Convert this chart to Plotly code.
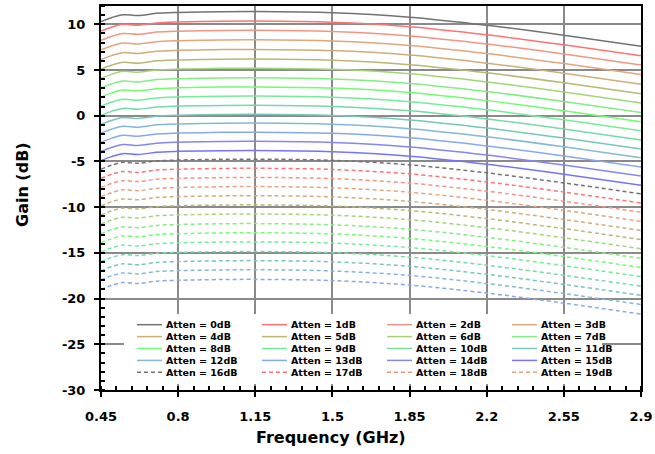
import plotly.graph_objects as go

# ---------------- data ----------------
freq = [0.45, 0.5, 0.55, 0.62, 0.7, 0.8, 1.0, 1.15, 1.5, 1.85, 2.2, 2.55, 2.9]

atten_0 = [10.30, 10.75, 11.05, 10.95, 11.20, 11.30, 11.38, 11.40, 11.27, 10.78, 9.90, 8.80, 7.60]
atten_1 = [9.25, 9.70, 10.00, 9.90, 10.15, 10.25, 10.33, 10.35, 10.22, 9.73, 8.85, 7.75, 6.55]
atten_2 = [8.25, 8.70, 9.00, 8.90, 9.15, 9.25, 9.33, 9.35, 9.22, 8.73, 7.85, 6.75, 5.55]
atten_3 = [7.20, 7.65, 7.95, 7.85, 8.10, 8.20, 8.28, 8.30, 8.17, 7.68, 6.80, 5.70, 4.50]
atten_4 = [6.15, 6.60, 6.90, 6.80, 7.05, 7.15, 7.23, 7.25, 7.12, 6.63, 5.75, 4.65, 3.45]
atten_5 = [5.10, 5.55, 5.85, 5.75, 6.00, 6.10, 6.18, 6.20, 6.07, 5.58, 4.70, 3.60, 2.40]
atten_6 = [4.10, 4.55, 4.85, 4.75, 5.00, 5.10, 5.18, 5.20, 5.07, 4.58, 3.70, 2.60, 1.40]
atten_7 = [3.05, 3.50, 3.80, 3.70, 3.95, 4.05, 4.13, 4.15, 4.02, 3.53, 2.65, 1.55, 0.35]
atten_8 = [2.05, 2.50, 2.80, 2.70, 2.95, 3.05, 3.13, 3.15, 3.02, 2.53, 1.65, 0.55, -0.65]
atten_9 = [1.05, 1.50, 1.80, 1.70, 1.95, 2.05, 2.13, 2.15, 2.02, 1.53, 0.65, -0.45, -1.65]
atten_10 = [0.05, 0.50, 0.80, 0.70, 0.95, 1.05, 1.13, 1.15, 1.02, 0.53, -0.35, -1.45, -2.65]
atten_11 = [-0.95, -0.50, -0.20, -0.30, -0.05, 0.05, 0.13, 0.15, 0.02, -0.47, -1.35, -2.45, -3.65]
atten_12 = [-1.90, -1.45, -1.15, -1.25, -1.00, -0.90, -0.82, -0.80, -0.93, -1.42, -2.30, -3.40, -4.60]
atten_13 = [-2.90, -2.45, -2.15, -2.25, -2.00, -1.90, -1.82, -1.80, -1.93, -2.42, -3.30, -4.40, -5.60]
atten_14 = [-3.90, -3.45, -3.15, -3.25, -3.00, -2.90, -2.82, -2.80, -2.93, -3.42, -4.30, -5.40, -6.60]
atten_15 = [-4.90, -4.45, -4.15, -4.25, -4.00, -3.90, -3.82, -3.80, -3.93, -4.42, -5.30, -6.40, -7.60]
atten_16 = [-5.85, -5.40, -5.10, -5.20, -4.95, -4.85, -4.77, -4.75, -4.88, -5.37, -6.25, -7.35, -8.55]
atten_17 = [-6.85, -6.40, -6.10, -6.20, -5.95, -5.85, -5.77, -5.75, -5.88, -6.37, -7.25, -8.35, -9.55]
atten_18 = [-7.85, -7.40, -7.10, -7.20, -6.95, -6.85, -6.77, -6.75, -6.88, -7.37, -8.25, -9.35, -10.55]
atten_19 = [-8.85, -8.40, -8.10, -8.20, -7.95, -7.85, -7.77, -7.75, -7.88, -8.37, -9.25, -10.35, -11.55]
atten_20 = [-9.85, -9.40, -9.10, -9.20, -8.95, -8.85, -8.77, -8.75, -8.88, -9.37, -10.25, -11.35, -12.55]
atten_21 = [-10.85, -10.40, -10.10, -10.20, -9.95, -9.85, -9.77, -9.75, -9.88, -10.37, -11.25, -12.35, -13.55]
atten_22 = [-11.85, -11.40, -11.10, -11.20, -10.95, -10.85, -10.77, -10.75, -10.88, -11.37, -12.25, -13.35, -14.55]
atten_23 = [-12.90, -12.45, -12.15, -12.25, -12.00, -11.90, -11.82, -11.80, -11.93, -12.42, -13.30, -14.40, -15.60]
atten_24 = [-13.90, -13.45, -13.15, -13.25, -13.00, -12.90, -12.82, -12.80, -12.93, -13.42, -14.30, -15.40, -16.60]
atten_25 = [-14.90, -14.45, -14.15, -14.25, -14.00, -13.90, -13.82, -13.80, -13.93, -14.42, -15.30, -16.40, -17.60]
atten_26 = [-15.95, -15.50, -15.20, -15.30, -15.05, -14.95, -14.87, -14.85, -14.98, -15.47, -16.35, -17.45, -18.65]
atten_27 = [-16.95, -16.50, -16.20, -16.30, -16.05, -15.95, -15.87, -15.85, -15.98, -16.47, -17.35, -18.45, -19.65]
atten_28 = [-17.95, -17.50, -17.20, -17.30, -17.05, -16.95, -16.87, -16.85, -16.98, -17.47, -18.35, -19.45, -20.65]
atten_29 = [-19.00, -18.55, -18.25, -18.35, -18.10, -18.00, -17.92, -17.90, -18.03, -18.52, -19.40, -20.50, -21.70]

gains = [atten_0, atten_1, atten_2, atten_3, atten_4, atten_5, atten_6, atten_7,
         atten_8, atten_9, atten_10, atten_11, atten_12, atten_13, atten_14, atten_15,
         atten_16, atten_17, atten_18, atten_19, atten_20, atten_21, atten_22, atten_23,
         atten_24, atten_25, atten_26, atten_27, atten_28, atten_29]

series_names = ["Atten = %ddB" % k for k in range(len(gains))]
legend_count = 20

x_tickvals = [0.45, 0.8, 1.15, 1.5, 1.85, 2.2, 2.55, 2.9]
x_ticktext = ["0.45", "0.8", "1.15", "1.5", "1.85", "2.2", "2.55", "2.9"]
y_tickvals = [-30, -25, -20, -15, -10, -5, 0, 5, 10]
y_ticktext = ["-30", "-25", "-20", "-15", "-10", "-5", "0", "5", "10"]
x_title = "Frequency (GHz)"
y_title = "Gain (dB)"

palette = ["#727272", "#ff7272", "#f49482", "#e4a47c", "#d0ac7a", "#b8b874",
           "#a0d678", "#84ec84", "#72fc72", "#74ec98", "#76daa8", "#78c6b8",
           "#84b8da", "#86a8ee", "#8686f2", "#7474ff"]

# ---------------- figure ----------------
fig = go.Figure()
for k, g in enumerate(gains):
    col = palette[k % len(palette)]
    dashed = k >= len(palette)
    fig.add_trace(go.Scatter(
        x=freq, y=g, mode="lines", name=series_names[k], showlegend=False,
        line=dict(color=col, width=1.5, shape="spline", smoothing=0.9,
                  dash="4px,3px" if dashed else "solid"),
    ))

FONT = "DejaVu Sans"
axis_common = dict(
    showline=True, linecolor="black", linewidth=2, mirror=True,
    showgrid=True, gridcolor="#8a8a8a", gridwidth=1.6,
    ticks="outside", ticklen=5, tickwidth=2, tickcolor="black",
    tickfont=dict(family=FONT, size=13, color="black", weight="bold"),
    zeroline=False, automargin=False,
)

fig.update_xaxes(
    **axis_common,
    range=[0.45, 2.9], tickmode="array", tickvals=x_tickvals, ticktext=x_ticktext,
    ticklabelstandoff=8,
    minor=dict(tick0=0.45, dtick=0.07, ticks="inside", ticklen=4, tickwidth=1.5,
               tickcolor="black", showgrid=False),
)
fig.update_yaxes(
    **axis_common,
    range=[-30, 12], tickmode="array", tickvals=y_tickvals, ticktext=y_ticktext,
    ticklabelstandoff=6,
    minor=dict(tick0=-30, dtick=1, ticks="inside", ticklen=4, tickwidth=1.5,
               tickcolor="black", showgrid=False),
)

# ---------------- legend (drawn as a 4-column block, row-major) ----------------
pl_l, pl_w, pl_t, pl_h = 101, 540, 6, 384
def px(xp):
    return (xp - pl_l) / pl_w
def py(yp):
    return (pl_t + pl_h - yp) / pl_h

shapes = [dict(type="rect", xref="paper", yref="paper", layer="above",
               x0=px(124), x1=px(602), y0=py(384), y1=py(314),
               fillcolor="white", line=dict(width=0))]
annotations = []
for k in range(legend_count):
    r, c = divmod(k, 4)
    col = palette[k % len(palette)]
    dashed = k >= len(palette)
    yy = 324.7 + 11.9 * r
    x0 = 137 + 125 * c
    shapes.append(dict(type="line", xref="paper", yref="paper", layer="above",
                       x0=px(x0), x1=px(x0 + 25), y0=py(yy), y1=py(yy),
                       line=dict(color=col, width=1.5,
                                 dash="4px,3px" if dashed else "solid")))
    annotations.append(dict(xref="paper", yref="paper", x=px(x0 + 27), y=py(yy),
                            text=series_names[k], showarrow=False,
                            xanchor="left", yanchor="middle",
                            font=dict(family=FONT, size=9.5, color="black",
                                      weight="bold")))

# axis titles
annotations.append(dict(xref="paper", yref="paper", x=px(331), y=py(437),
                        text=x_title, showarrow=False, xanchor="center",
                        yanchor="middle",
                        font=dict(family=FONT, size=16, color="black", weight="bold")))
annotations.append(dict(xref="paper", yref="paper", x=px(22), y=py(185),
                        text=y_title, showarrow=False, xanchor="center",
                        yanchor="middle", textangle=-90,
                        font=dict(family=FONT, size=16, color="black", weight="bold")))

fig.update_layout(
    width=655, height=454,
    margin=dict(l=101, r=14, t=6, b=64),
    paper_bgcolor="white", plot_bgcolor="white",
    font=dict(family=FONT, color="black"),
    shapes=shapes, annotations=annotations,
    showlegend=False,
)

fig.write_html("out.html", config={"displayModeBar": False},
               post_script="document.body.style.margin='0';document.body.style.overflow='hidden';")
